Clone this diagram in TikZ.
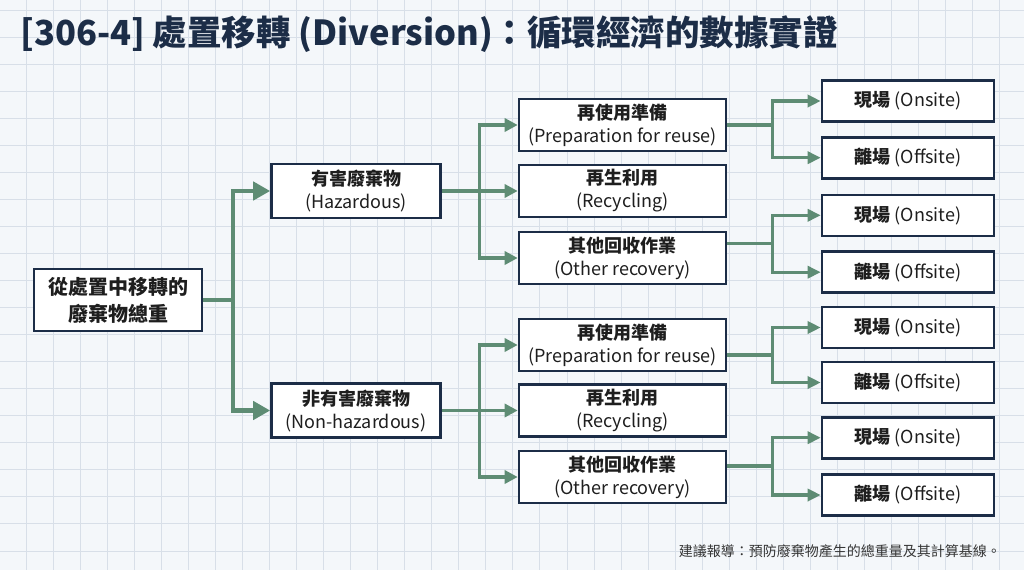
\documentclass[tikz,border=0pt]{standalone}
\usepackage{fontspec}
\setmainfont{Noto Sans CJK TC}
\usetikzlibrary{arrows.meta}
\definecolor{bgc}{HTML}{F4F7FA}
\definecolor{gridc}{HTML}{D8DFE8}
\definecolor{navy}{HTML}{1C2D47}
\definecolor{arrowg}{HTML}{5E8C74}
\definecolor{txt}{HTML}{1E1E1E}
\tikzset{
  box/.style={draw=navy, line width=2.6pt, fill=white, align=center, inner sep=0pt, text=txt},
  rootbox/.style={box, minimum width=168pt, minimum height=62pt, font=\fontsize{20}{27}\selectfont\bfseries},
  catbox/.style={box, minimum width=169pt, minimum height=54pt, font=\fontsize{18}{23}\selectfont},
  midbox/.style={box, minimum width=207pt, minimum height=52pt, font=\fontsize{18}{23}\selectfont},
  leafbox/.style={box, minimum width=172pt, minimum height=41pt, font=\fontsize{18}{22}\selectfont},
  conA/.style={draw=arrowg, line width=4.6pt},
  conB/.style={draw=arrowg, line width=3.8pt},
  conC/.style={draw=arrowg, line width=3.3pt},
  tipA/.style={-{Triangle[length=17pt,width=18pt]}},
  tipB/.style={-{Triangle[length=13pt,width=13pt]}},
  tipC/.style={-{Triangle[length=13pt,width=12pt]}},
}
\begin{document}
\begin{tikzpicture}[x=1pt,y=-1pt]
\fill[bgc] (0,0) rectangle (1024,570);
\useasboundingbox (0,0) rectangle (1024,570);
\foreach \i in {0,...,37} \draw[gridc, line width=1pt] ({26+27.05*\i},0) -- ++(0,570);
\foreach \j in {0,...,21} \draw[gridc, line width=1pt] (0,{10+27.05*\j}) -- ++(1024,0);

\node[anchor=west, font=\fontsize{34.5}{40}\selectfont\bfseries, text=navy, inner sep=0pt] (title) at (20,34) {[306-4] 處置移轉 (Diversion)：循環經濟的數據實證};

\node[rootbox] (root) at (118,300) {從處置中移轉的\\廢棄物總重};

\node[catbox] (haz) at (356,191) {\textbf{有害廢棄物}\\(Hazardous)};
\node[catbox] (non) at (356,410.5) {\textbf{非有害廢棄物}\\(Non-hazardous)};

\node[midbox] (prepA) at (622.5,125) {\textbf{再使用準備}\\(Preparation for reuse)};
\node[midbox] (recA) at (622.5,191) {\textbf{再生利用}\\(Recycling)};
\node[midbox] (othA) at (622.5,258) {\textbf{其他回收作業}\\(Other recovery)};
\node[midbox] (prepB) at (622.5,345) {\textbf{再使用準備}\\(Preparation for reuse)};
\node[midbox] (recB) at (622.5,410.5) {\textbf{再生利用}\\(Recycling)};
\node[midbox] (othB) at (622.5,477) {\textbf{其他回收作業}\\(Other recovery)};

\node[leafbox] (l1) at (908,101) {\textbf{現場} (Onsite)};
\node[leafbox] (l2) at (908,157.7) {\textbf{離場} (Offsite)};
\node[leafbox] (l3) at (908,215.3) {\textbf{現場} (Onsite)};
\node[leafbox] (l4) at (908,272.2) {\textbf{離場} (Offsite)};
\node[leafbox] (l5) at (908,327.5) {\textbf{現場} (Onsite)};
\node[leafbox] (l6) at (908,382.5) {\textbf{離場} (Offsite)};
\node[leafbox] (l7) at (908,437.7) {\textbf{現場} (Onsite)};
\node[leafbox] (l8) at (908,495) {\textbf{離場} (Offsite)};

% root connectors
\coordinate (jr) at (233,300);
\draw[conA] (root.east) -- (jr);
\draw[conA,tipA] (jr) |- (haz.west);
\draw[conA,tipA] (jr) |- (non.west);

% hazardous
\coordinate (jh) at (479.5,191);
\draw[conB] (haz.east) -- (jh);
\draw[conB,tipB] (jh) |- (prepA.west);
\draw[conB,tipB] (jh) -- (recA.west);
\draw[conB,tipB] (jh) |- (othA.west);

% non-hazardous
\coordinate (jn) at (479.5,410.5);
\draw[conB] (non.east) -- (jn);
\draw[conB,tipB] (jn) |- (prepB.west);
\draw[conB,tipB] (jn) -- (recB.west);
\draw[conB,tipB] (jn) |- (othB.west);

% level 3 to level 4
\coordinate (j1) at (772.5,125);
\coordinate (j2) at (772.5,243.5);
\coordinate (j3) at (772.5,355);
\coordinate (j4) at (772.5,466);
\draw[conC] (prepA.east |- j1) -- (j1);
\draw[conC,tipC] (j1) |- (l1.west);
\draw[conC,tipC] (j1) |- (l2.west);
\draw[conC] (othA.east |- j2) -- (j2);
\draw[conC,tipC] (j2) |- (l3.west);
\draw[conC,tipC] (j2) |- (l4.west);
\draw[conC] (prepB.east |- j3) -- (j3);
\draw[conC,tipC] (j3) |- (l5.west);
\draw[conC,tipC] (j3) |- (l6.west);
\draw[conC] (othB.east |- j4) -- (j4);
\draw[conC,tipC] (j4) |- (l7.west);
\draw[conC,tipC] (j4) |- (l8.west);

\node[anchor=east, font=\fontsize{14}{16}\selectfont, text=txt!90, inner sep=0pt] (foot) at (1001,551) {建議報導：預防廢棄物產生的總重量及其計算基線。};
\end{tikzpicture}
\end{document}
